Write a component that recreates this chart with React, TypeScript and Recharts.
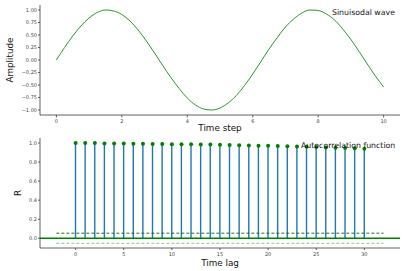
import React from "react";
import {
  ComposedChart,
  LineChart,
  Line,
  Bar,
  XAxis,
  YAxis,
  ReferenceLine,
} from "recharts";

// ---- Top panel: sinusoidal wave ----
const timeSteps = [
  0, 0.25, 0.5, 0.75, 1, 1.25, 1.5, 1.75, 2, 2.25, 2.5, 2.75, 3, 3.25, 3.5,
  3.75, 4, 4.25, 4.5, 4.75, 5, 5.25, 5.5, 5.75, 6, 6.25, 6.5, 6.75, 7, 7.25,
  7.5, 7.75, 8, 8.25, 8.5, 8.75, 9, 9.25, 9.5, 9.75, 10,
];
const amplitudes = [
  0, 0.25, 0.48, 0.68, 0.84, 0.95, 1.0, 0.98, 0.91, 0.78, 0.6, 0.38, 0.14,
  -0.11, -0.35, -0.57, -0.76, -0.9, -0.98, -1.0, -0.96, -0.86, -0.71, -0.51,
  -0.28, -0.03, 0.22, 0.45, 0.66, 0.82, 0.94, 1.0, 0.99, 0.92, 0.8, 0.62, 0.41,
  0.17, -0.08, -0.32, -0.54,
];
const topXTicks = [0, 2, 4, 6, 8, 10];
const topYTicks = [-1, -0.75, -0.5, -0.25, 0, 0.25, 0.5, 0.75, 1];

// ---- Bottom panel: autocorrelation ----
const lags = [
  0, 1, 2, 3, 4, 5, 6, 7, 8, 9, 10, 11, 12, 13, 14, 15, 16, 17, 18, 19, 20,
  21, 22, 23, 24, 25, 26, 27, 28, 29, 30,
];
const acfValues = [
  1.0, 1.0, 1.0, 0.995, 0.995, 0.994, 0.993, 0.991, 0.99, 0.989, 0.988, 0.987,
  0.986, 0.984, 0.983, 0.981, 0.979, 0.977, 0.975, 0.972, 0.97, 0.968, 0.966,
  0.963, 0.96, 0.957, 0.954, 0.951, 0.948, 0.945, 0.94,
];
const confBand = [0.053, -0.053];
const bandRange = [-2, 32];
const bottomXTicks = [0, 5, 10, 15, 20, 25, 30];
const bottomYTicks = [0, 0.2, 0.4, 0.6, 0.8, 1.0];

const sineData = timeSteps.map((t, i) => ({ t, y: amplitudes[i] }));
const acfData = lags.map((lag, i) => ({ lag, r: acfValues[i] }));

const FONT = "DejaVu Sans, sans-serif";
const SPINE = "#3a3a3a";
const tickStyle = { fontSize: 5, fill: "#444", fontFamily: FONT };
const fmtMinus = (v: number, d: number) => {
  const s = Math.abs(v).toFixed(d);
  return v < 0 ? "\u2212" + s : s;
};

const label = (
  text: string,
  left: number,
  top: number,
  size: number,
  extra: React.CSSProperties = {}
) => (
  <div
    style={{
      position: "absolute",
      left,
      top,
      fontSize: size,
      fontFamily: FONT,
      color: "#111",
      whiteSpace: "nowrap",
      lineHeight: 1,
      ...extra,
    }}
  >
    {text}
  </div>
);

export default function App() {
  return (
    <div
      style={{
        position: "absolute",
        left: 0,
        top: 0,
        width: 407,
        height: 271,
        background: "#fff",
        overflow: "hidden",
      }}
    >
      <div style={{ position: "absolute", left: 0, top: 0 }}>
        <LineChart
          width={407}
          height={135}
          data={sineData}
          margin={{ top: 5, right: 7, bottom: 0, left: 0 }}
        >
          <XAxis
            dataKey="t"
            type="number"
            domain={[-0.5, 10.5]}
            ticks={topXTicks}
            height={20}
            tick={tickStyle}
            tickSize={2.5}
            tickMargin={1.5}
            stroke={SPINE}
            strokeWidth={0.8}
            interval={0}
          />
          <XAxis
            xAxisId="top"
            orientation="top"
            type="number"
            domain={[-0.5, 10.5]}
            height={0}
            tick={false}
            tickLine={false}
            stroke={SPINE}
            strokeWidth={0.8}
          />
          <YAxis
            type="number"
            domain={[-1.1, 1.1]}
            ticks={topYTicks}
            width={40}
            tick={tickStyle}
            tickSize={2}
            tickMargin={1}
            tickFormatter={(v: number) => fmtMinus(v, 2)}
            stroke={SPINE}
            strokeWidth={0.8}
            interval={0}
          />
          <YAxis
            yAxisId="right"
            orientation="right"
            domain={[-1.1, 1.1]}
            width={0}
            tick={false}
            tickLine={false}
            stroke={SPINE}
            strokeWidth={0.8}
          />
          <Line
            dataKey="y"
            type="monotone"
            stroke="#138a13"
            strokeWidth={0.9}
            dot={false}
            isAnimationActive={false}
          />
        </LineChart>
      </div>

      <div style={{ position: "absolute", left: 0, top: 130 }}>
        <ComposedChart
          width={407}
          height={141}
          data={acfData}
          margin={{ top: 8, right: 7, bottom: 0, left: 0 }}
        >
          <XAxis
            dataKey="lag"
            type="number"
            domain={[-3.7, 33.7]}
            ticks={bottomXTicks}
            height={23}
            tick={tickStyle}
            tickSize={2}
            tickMargin={2}
            stroke={SPINE}
            strokeWidth={0.8}
            interval={0}
            allowDataOverflow
          />
          <XAxis
            xAxisId="top"
            orientation="top"
            type="number"
            domain={[-3.7, 33.7]}
            height={0}
            tick={false}
            tickLine={false}
            stroke={SPINE}
            strokeWidth={0.8}
          />
          <YAxis
            type="number"
            domain={[-0.1025, 1.0525]}
            ticks={bottomYTicks}
            width={40}
            tick={tickStyle}
            tickSize={2}
            tickMargin={1}
            tickFormatter={(v: number) => v.toFixed(1)}
            stroke={SPINE}
            strokeWidth={0.8}
            interval={0}
            allowDataOverflow
          />
          <YAxis
            yAxisId="right"
            orientation="right"
            domain={[-0.1025, 1.0525]}
            width={0}
            tick={false}
            tickLine={false}
            stroke={SPINE}
            strokeWidth={0.8}
          />
          <Bar
            dataKey="r"
            fill="#1f77b4"
            barSize={1.4}
            isAnimationActive={false}
          />
          <ReferenceLine
            segment={[
              { x: bandRange[0], y: confBand[0] },
              { x: bandRange[1], y: confBand[0] },
            ]}
            stroke="#006400"
            strokeDasharray="3 2"
            strokeWidth={0.9}
          />
          <ReferenceLine
            segment={[
              { x: bandRange[0], y: confBand[1] },
              { x: bandRange[1], y: confBand[1] },
            ]}
            stroke="#80c080"
            strokeDasharray="3 2"
            strokeWidth={0.9}
          />
          <ReferenceLine y={0} stroke="#008000" strokeWidth={1.3} />
          <Line
            dataKey="r"
            stroke="none"
            dot={{ r: 2, fill: "#008000", stroke: "none" }}
            isAnimationActive={false}
          />
        </ComposedChart>
      </div>

      {label("Sinuisodal wave", 332, 9, 7.8)}
      {label("Autocorrelation function", 301, 141.5, 7.8)}
      {label("Time step", 220, 128, 8.8, {
        transform: "translate(-50%, -50%)",
      })}
      {label("Time lag", 220, 263, 8.8, {
        transform: "translate(-50%, -50%)",
      })}
      {label("Amplitude", 10, 60, 8.8, {
        transform: "translate(-50%, -50%) rotate(-90deg)",
      })}
      {label("R", 18, 193, 8.8, {
        transform: "translate(-50%, -50%) rotate(-90deg)",
      })}
    </div>
  );
}
